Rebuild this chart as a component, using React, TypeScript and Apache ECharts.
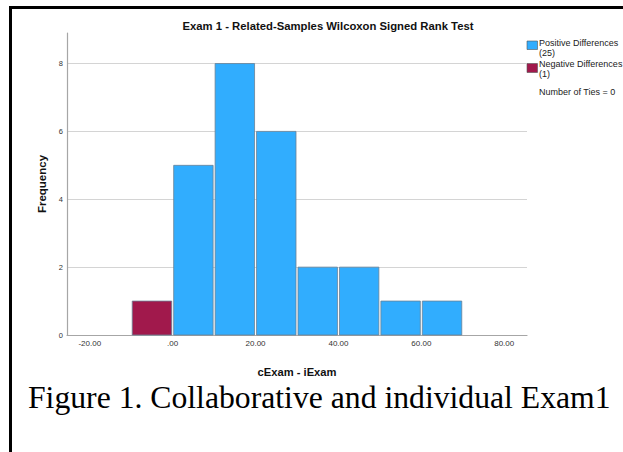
import React, { useEffect, useRef } from "react";
import * as echarts from "echarts";

// ---- Data ----
const binLowerEdges = [-10, 0, 10, 20, 30, 40, 50, 60];
const binWidth = 10;
const frequencies = [1, 5, 8, 6, 2, 2, 1, 1];
const binSign = ["negative", "positive", "positive", "positive", "positive", "positive", "positive", "positive"];
const xTickValues = [-20, 0, 20, 40, 60, 80];
const xTickLabels = ["-20.00", ".00", "20.00", "40.00", "60.00", "80.00"];
const yTickValues = [0, 2, 4, 6, 8];
const numberOfTies = 0;

const titleText = "Exam 1 - Related-Samples Wilcoxon Signed Rank Test";
const xName = "cExam - iExam";
const yName = "Frequency";
const caption = "Figure 1. Collaborative and individual Exam1";

const POS_COLOR = "#31adfe";
const NEG_COLOR = "#a1194c";

export default function App() {
  const ref = useRef<HTMLDivElement>(null);

  useEffect(() => {
    if (!ref.current) return;
    const chart = echarts.init(ref.current, null, { renderer: "svg" });

    const posCount = frequencies.reduce((s, v, i) => (binSign[i] === "positive" ? s + v : s), 0);
    const negCount = frequencies.reduce((s, v, i) => (binSign[i] === "negative" ? s + v : s), 0);

    const data = binLowerEdges.map((lo, i) => ({
      value: [lo, lo + binWidth, frequencies[i]],
      sign: binSign[i],
    }));

    const font = "Liberation Sans, Arial, sans-serif";

    chart.setOption({
      animation: false,
      backgroundColor: "#ffffff",
      title: {
        text: titleText,
        left: 328,
        top: 20,
        textAlign: "center",
        padding: 0,
        textStyle: { fontFamily: font, fontSize: 11.3, fontWeight: "bold", color: "#111" },
      },
      grid: { left: 67, right: 96, top: 33, bottom: 117, containLabel: false },
      xAxis: {
        type: "value",
        min: -25.5,
        max: 85.5,
        name: xName,
        nameLocation: "middle",
        nameGap: 31,
        nameTextStyle: { fontFamily: font, fontSize: 11.2, fontWeight: "bold", color: "#111" },
        axisLine: { show: true, onZero: false, lineStyle: { color: "#a6a6a6", width: 1.2 } },
        axisTick: { show: false },
        splitLine: { show: false },
        axisLabel: {
          customValues: xTickValues,
          formatter: (v: number) => {
            const idx = xTickValues.indexOf(v);
            return idx >= 0 ? xTickLabels[idx] : "";
          },
          fontFamily: font,
          fontSize: 8,
          color: "#333",
          margin: 4,
        },
      },
      yAxis: {
        type: "value",
        min: 0,
        max: 8.9,
        interval: 2,
        name: yName,
        nameLocation: "middle",
        nameGap: 19,
        nameRotate: 90,
        nameTextStyle: { fontFamily: font, fontSize: 11.5, fontWeight: "bold", color: "#111" },
        axisLine: { show: true, onZero: false, lineStyle: { color: "#a6a6a6", width: 1.2 } },
        axisTick: { show: false },
        splitLine: {
          show: true,
          showMaxLine: false,
          showMinLine: false,
          lineStyle: { color: "#d4d4d4", width: 1 },
        },
        axisLabel: {
          showMaxLabel: false,
          formatter: (v: number) => (yTickValues.includes(v) ? String(v) : ""),
          fontFamily: font,
          fontSize: 7.5,
          color: "#333",
          margin: 4,
        },
      },
      series: [
        {
          type: "custom",
          data,
          encode: { x: [0, 1], y: 2 },
          renderItem: (params: any, api: any) => {
            const lo = api.value(0);
            const hi = api.value(1);
            const cnt = api.value(2);
            const p0 = api.coord([lo, cnt]);
            const p1 = api.coord([hi, 0]);
            const sign = data[params.dataIndex].sign;
            return {
              type: "rect",
              shape: {
                x: p0[0] + 1,
                y: p0[1],
                width: p1[0] - p0[0] - 2,
                height: p1[1] - p0[1],
              },
              style: {
                fill: sign === "negative" ? NEG_COLOR : POS_COLOR,
                stroke: "#6a8296",
                lineWidth: 0.8,
              },
            };
          },
        },
      ],
      graphic: [
        // frame lines
        { type: "line", shape: { x1: 9, y1: 7.5, x2: 623, y2: 7.5 }, style: { stroke: "#000", lineWidth: 3 } },
        { type: "line", shape: { x1: 10.5, y1: 6, x2: 10.5, y2: 452 }, style: { stroke: "#000", lineWidth: 3 } },
        // legend
        { type: "rect", shape: { x: 527, y: 41, width: 10.5, height: 8.5 }, style: { fill: POS_COLOR, stroke: "#555", lineWidth: 0.6 } },
        {
          type: "text",
          x: 539,
          y: 38.5,
          style: {
            text: `Positive Differences\n(${posCount})`,
            fontFamily: font,
            fontSize: 9,
            lineHeight: 9.5,
            fill: "#222",
            textVerticalAlign: "top",
          },
        },
        { type: "rect", shape: { x: 527, y: 63.5, width: 10.5, height: 9 }, style: { fill: NEG_COLOR, stroke: "#555", lineWidth: 0.6 } },
        {
          type: "text",
          x: 539,
          y: 59.5,
          style: {
            text: `Negative Differences\n(${negCount})`,
            fontFamily: font,
            fontSize: 9,
            lineHeight: 9.5,
            fill: "#222",
            textVerticalAlign: "top",
          },
        },
        {
          type: "text",
          x: 539,
          y: 87.5,
          style: {
            text: `Number of Ties = ${numberOfTies}`,
            fontFamily: font,
            fontSize: 9,
            fill: "#222",
            textVerticalAlign: "top",
          },
        },
        // caption
        {
          type: "text",
          x: 28,
          y: 397,
          style: {
            text: caption,
            fontFamily: "Liberation Serif, Times New Roman, serif",
            fontSize: 31.7,
            fill: "#000",
            textVerticalAlign: "middle",
          },
        },
      ],
    });

    return () => chart.dispose();
  }, []);

  return (
    <div
      ref={ref}
      style={{ position: "fixed", left: 0, top: 0, width: 623, height: 452 }}
    />
  );
}
